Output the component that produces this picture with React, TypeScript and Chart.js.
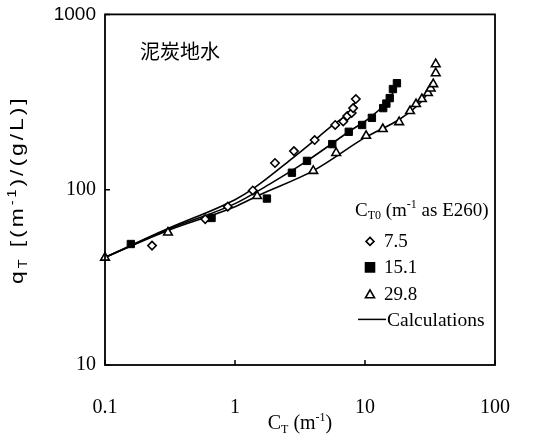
import React, { useEffect, useRef } from "react";
import { Chart, registerables } from "chart.js";
Chart.register(...registerables);

// Measured data (C_T, q_T)
const diamondX = [0.23, 0.59, 0.88, 1.37, 2.03, 2.84, 4.1, 5.9, 6.8, 7.3, 7.9, 8.1, 8.5];
const diamondY = [48, 68, 80, 99, 142, 166, 192, 234, 245, 263, 274, 292, 329];
const squareX = [0.158, 0.66, 1.76, 2.74, 3.58, 5.6, 7.5, 9.5, 11.3, 13.8, 14.6, 15.5, 16.4, 17.6];
const squareY = [49, 69, 89, 125, 146, 182, 214, 234, 257, 292, 310, 333, 375, 405];
const triX = [0.1, 0.305, 1.48, 4.0, 6.0, 10.2, 13.7, 18.3, 22.2, 24.7, 27.4, 30.5, 32, 33.5, 35, 35];
const triY = [41, 57, 92, 128, 162, 203, 222, 243, 281, 308, 329, 356, 378, 400, 462, 520];

// Calculated curves
const calcAX = [0.1, 0.305, 1.0, 1.37, 2.79, 5.67, 7.67, 8.83];
const calcAY = [41.1, 60, 87.7, 101, 152, 234, 281, 338];
const calcBX = [0.1, 0.305, 1.0, 1.86, 3.58, 7.5, 11.3, 15.5, 17.9];
const calcBY = [41.1, 59.3, 83.3, 108, 146, 214, 263, 333, 405];
const calcCX = [0.1, 0.305, 1.0, 1.56, 3.98, 10.2, 18.6, 26.5, 33.3];
const calcCY = [41.1, 58.5, 80, 93.7, 128, 200, 253, 312, 390];

const xTicks = [0.1, 1, 10, 100];
const yTicks = [10, 100, 1000];
const legendLabels = ["7.5", "15.1", "29.8"];
const calcLabel = "Calculations";
const chartLabel = "泥炭地水";

const pts = (xs: number[], ys: number[]) => xs.map((x, i) => ({ x, y: ys[i] }));

const SERIF = "'Liberation Serif', 'Times New Roman', serif";
const SANS = "'Liberation Sans', Arial, sans-serif";

type Piece = { t: string; size: number; dy?: number; family?: string };

function richWidth(ctx: CanvasRenderingContext2D, pieces: Piece[], family: string) {
  let w = 0;
  for (const p of pieces) {
    ctx.font = `${p.size}px ${p.family || family}`;
    w += ctx.measureText(p.t).width;
  }
  return w;
}

function drawRich(ctx: CanvasRenderingContext2D, pieces: Piece[], x: number, y: number, family: string) {
  let cx = x;
  ctx.textBaseline = "alphabetic";
  ctx.textAlign = "left";
  for (const p of pieces) {
    ctx.font = `${p.size}px ${p.family || family}`;
    ctx.fillText(p.t, cx, y + (p.dy || 0));
    cx += ctx.measureText(p.t).width;
  }
}

function drawMarker(ctx: CanvasRenderingContext2D, kind: string, x: number, y: number) {
  ctx.save();
  ctx.lineWidth = 1.6;
  ctx.strokeStyle = "#000";
  ctx.fillStyle = kind === "square" ? "#000" : "#fff";
  ctx.beginPath();
  if (kind === "diamond") {
    const r = 4;
    ctx.moveTo(x, y - r);
    ctx.lineTo(x + r, y);
    ctx.lineTo(x, y + r);
    ctx.lineTo(x - r, y);
    ctx.closePath();
  } else if (kind === "square") {
    ctx.rect(x - 4.5, y - 4.5, 9, 9);
  } else {
    const r = 4.5;
    ctx.moveTo(x, y - r);
    ctx.lineTo(x + r, y + r * 0.75);
    ctx.lineTo(x - r, y + r * 0.75);
    ctx.closePath();
  }
  ctx.fill();
  ctx.stroke();
  ctx.restore();
}

const decorPlugin = {
  id: "decor",
  afterDraw(chart: any) {
    const ctx: CanvasRenderingContext2D = chart.ctx;
    const { left, right, top, bottom } = chart.chartArea;
    const xs = chart.scales.x;
    const ys = chart.scales.y;
    ctx.save();
    ctx.fillStyle = "#000";
    ctx.strokeStyle = "#000";
    // frame
    ctx.lineWidth = 1.8;
    ctx.strokeRect(left, top, right - left, bottom - top);
    // inward ticks
    ctx.lineWidth = 1.5;
    ctx.beginPath();
    for (const v of xTicks) {
      const px = xs.getPixelForValue(v);
      ctx.moveTo(px, bottom);
      ctx.lineTo(px, bottom - 5);
    }
    for (const v of yTicks) {
      const py = ys.getPixelForValue(v);
      ctx.moveTo(left, py);
      ctx.lineTo(left + 5, py);
    }
    ctx.stroke();

    // chinese label
    ctx.font = `20px 'Noto Sans CJK SC', sans-serif`;
    ctx.textAlign = "left";
    ctx.textBaseline = "middle";
    ctx.fillText(chartLabel, left + 35, top + 37);

    // legend
    const lx = right - 140;
    drawRich(
      ctx,
      [
        { t: "C", size: 19 },
        { t: "T0", size: 12, dy: 3 },
        { t: " (m", size: 19 },
        { t: "-1", size: 12, dy: -8 },
        { t: " as E260)", size: 19 },
      ],
      lx,
      top + 202,
      SERIF
    );
    const kinds = ["diamond", "square", "triangle"];
    const rowY = [top + 227, top + 253, top + 280];
    for (let i = 0; i < 3; i++) {
      drawMarker(ctx, kinds[i], lx + 15, rowY[i]);
      ctx.fillStyle = "#000";
      ctx.textAlign = "left";
      ctx.textBaseline = "middle";
      ctx.font = `19px ${SERIF}`;
      ctx.fillText(legendLabels[i], lx + 29, rowY[i] + 1);
    }
    const cy = top + 305;
    ctx.lineWidth = 1.5;
    ctx.beginPath();
    ctx.moveTo(lx + 3, cy);
    ctx.lineTo(lx + 31, cy);
    ctx.stroke();
    ctx.font = `19.5px ${SERIF}`;
    ctx.textBaseline = "middle";
    ctx.fillText(calcLabel, lx + 32, cy + 1);

    // x title
    const xp: Piece[] = [
      { t: "C", size: 20 },
      { t: "T", size: 12, dy: 4 },
      { t: " (m", size: 20 },
      { t: "-1", size: 12, dy: -8 },
      { t: ")", size: 20 },
    ];
    const xw = richWidth(ctx, xp, SERIF);
    drawRich(ctx, xp, (left + right) / 2 - xw / 2, bottom + 64, SERIF);

    // y title
    const yp: Piece[] = [
      { t: "q", size: 19 },
      { t: "T", size: 12, dy: 4 },
      { t: " [(m", size: 19 },
      { t: "-1", size: 12, dy: -7 },
      { t: ")/(g/L)]", size: 19 },
    ];
    ctx.save();
    (ctx as any).letterSpacing = "2.5px";
    const yw = richWidth(ctx, yp, SANS);
    ctx.translate(23, (top + bottom) / 2);
    ctx.rotate(-Math.PI / 2);
    ctx.scale(1.2, 1);
    drawRich(ctx, yp, -yw / 2, 0, SANS);
    ctx.restore();

    ctx.restore();
  },
};

export default function App() {
  const ref = useRef<HTMLCanvasElement>(null);
  useEffect(() => {
    if (!ref.current) return;
    const lineDs = (xs: number[], ys: number[]) => ({
      type: "line" as const,
      data: pts(xs, ys),
      showLine: true,
      borderColor: "#000",
      borderWidth: 1.6,
      pointRadius: 0,
      fill: false,
      cubicInterpolationMode: "monotone" as const,
      clip: false as any,
    });
    const chart = new Chart(ref.current, {
      type: "scatter",
      data: {
        datasets: [
          {
            label: legendLabels[0],
            data: pts(diamondX, diamondY),
            pointStyle: "rectRot",
            pointRadius: 4.2,
            backgroundColor: "#fff",
            borderColor: "#000",
            borderWidth: 1.6,
            clip: false as any,
          },
          {
            label: legendLabels[1],
            data: pts(squareX, squareY),
            pointStyle: "rect",
            pointRadius: 5.2,
            backgroundColor: "#000",
            borderColor: "#000",
            borderWidth: 1,
            clip: false as any,
          },
          {
            label: legendLabels[2],
            data: pts(triX, triY),
            pointStyle: "triangle",
            pointRadius: 5,
            backgroundColor: "#fff",
            borderColor: "#000",
            borderWidth: 1.6,
            clip: false as any,
          },
          lineDs(calcAX, calcAY) as any,
          lineDs(calcBX, calcBY) as any,
          lineDs(calcCX, calcCY) as any,
        ],
      },
      options: {
        animation: false,
        responsive: false,
        layout: { padding: { left: 0, top: 13, right: 39, bottom: 0 } },
        plugins: { legend: { display: false }, tooltip: { enabled: false } },
        scales: {
          x: {
            type: "logarithmic",
            min: 0.1,
            max: 100,
            afterBuildTicks: (s: any) => {
              s.ticks = xTicks.map((v) => ({ value: v }));
            },
            afterFit: (s: any) => {
              s.height = 82;
            },
            ticks: {
              callback: (v: any) => String(v),
              font: { family: SERIF, size: 20 },
              color: "#000",
              padding: 3,
              maxRotation: 0,
              autoSkip: false,
            },
            grid: { display: false, drawTicks: true, tickLength: 28 },
            border: { display: false },
          },
          y: {
            type: "logarithmic",
            min: 10,
            max: 1000,
            afterBuildTicks: (s: any) => {
              s.ticks = yTicks.map((v) => ({ value: v }));
            },
            afterFit: (s: any) => {
              s.width = 105;
            },
            ticks: {
              callback: (v: any) => String(v),
              font: (c: any) =>
                c.tick && c.tick.value === 1000
                  ? { family: SANS, size: 19 }
                  : { family: SERIF, size: 20 },
              color: "#000",
              padding: 3,
              autoSkip: false,
            },
            grid: { display: false, drawTicks: true, tickLength: 6 },
            border: { display: false },
          },
        },
      },
      plugins: [decorPlugin],
    });
    return () => chart.destroy();
  }, []);
  return (
    <div style={{ position: "fixed", left: 0, top: 0, width: 534, height: 447, background: "#fff" }}>
      <canvas ref={ref} width={534} height={447} style={{ display: "block" }} />
    </div>
  );
}
